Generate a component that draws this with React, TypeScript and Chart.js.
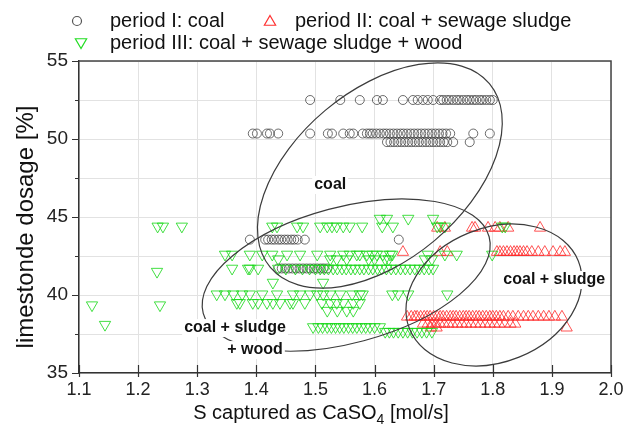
import React, { useEffect, useRef } from "react";
import { Chart, registerables } from "chart.js";

Chart.register(...registerables);

// ---------------- axes ----------------
const X_MIN = 1.1;
const X_MAX = 2.0;
const X_STEP = 0.1;
const Y_MIN = 35;
const Y_MAX = 55;
const Y_STEP = 2.5;

// ---------------- period I: coal (circles) ----------------
const coalXs_52_5 = [1.491, 1.542, 1.575, 1.604, 1.614, 1.648, 1.665, 1.673, 1.682, 1.69, 1.699, 1.711, 1.716, 1.722, 1.727, 1.733, 1.739, 1.744, 1.75, 1.756, 1.761, 1.767, 1.772, 1.778, 1.783, 1.789, 1.795, 1.8];
const coalXs_50_35 = [1.394, 1.401, 1.418, 1.423, 1.437, 1.491, 1.521, 1.528, 1.547, 1.558, 1.564, 1.58, 1.587, 1.592, 1.597, 1.603, 1.609, 1.615, 1.62, 1.626, 1.632, 1.638, 1.644, 1.649, 1.655, 1.661, 1.667, 1.673, 1.679, 1.685, 1.691, 1.697, 1.703, 1.709, 1.715, 1.721, 1.728, 1.767, 1.795];
const coalXs_49_8 = [1.621, 1.627, 1.633, 1.639, 1.645, 1.651, 1.657, 1.663, 1.669, 1.675, 1.681, 1.687, 1.693, 1.699, 1.705, 1.711, 1.717, 1.723, 1.733, 1.761];
const coalXs_43_55 = [1.389, 1.415, 1.42, 1.426, 1.431, 1.437, 1.442, 1.448, 1.453, 1.459, 1.464, 1.47, 1.482, 1.641];
const coalXs_41_7 = [1.437, 1.443, 1.449, 1.455, 1.461, 1.467, 1.473, 1.479, 1.485, 1.491, 1.497, 1.503, 1.509, 1.514, 1.52];

// ---------------- period II: coal + sewage sludge (up triangles) ----------------
const sludgeXs_44_3 = [1.706, 1.719, 1.765, 1.77, 1.792, 1.804, 1.812, 1.826, 1.88];
const sludgeXs_42_75 = [1.648, 1.711, 1.723, 1.807, 1.812, 1.818, 1.824, 1.83, 1.836, 1.841, 1.846, 1.852, 1.858, 1.866, 1.877, 1.888, 1.902, 1.914, 1.922];
const sludgeXs_38_6 = [1.655, 1.662, 1.668, 1.672, 1.678, 1.684, 1.689, 1.694, 1.7, 1.706, 1.711, 1.716, 1.722, 1.728, 1.733, 1.738, 1.744, 1.75, 1.755, 1.76, 1.766, 1.772, 1.777, 1.783, 1.789, 1.795, 1.8, 1.806, 1.812, 1.818, 1.826, 1.834, 1.843, 1.852, 1.86, 1.868, 1.877, 1.886, 1.895, 1.905, 1.917];
const sludgeXs_38_15 = [1.682, 1.69, 1.697, 1.704, 1.711, 1.718, 1.725, 1.732, 1.74, 1.748, 1.755, 1.763, 1.771, 1.779, 1.787, 1.795, 1.803, 1.811, 1.82, 1.83, 1.838];
const sludgeXs_37_9 = [1.695, 1.705, 1.925];

// ---------------- period III: coal + sewage sludge + wood (down triangles) ----------------
const woodOutliers: [number, number][] = [[1.122, 39.35], [1.144, 38.1], [1.233, 44.4], [1.242, 44.4], [1.274, 44.4], [1.232, 41.5], [1.237, 39.35]];
const woodXs_44_9 = [1.609, 1.621, 1.657, 1.699];
const woodXs_44_4 = [1.427, 1.435, 1.469, 1.479, 1.508, 1.52, 1.528, 1.536, 1.547, 1.558, 1.579, 1.613, 1.631, 1.706, 1.711, 1.719, 1.816, 1.821];
const woodXs_42_6 = [1.347, 1.359, 1.389, 1.41, 1.427, 1.452, 1.474, 1.503, 1.525, 1.547, 1.558, 1.57, 1.575, 1.587, 1.596, 1.604, 1.614, 1.626, 1.63, 1.69, 1.719, 1.739, 1.799];
const woodXs_42_3 = [1.437, 1.525, 1.536, 1.553, 1.59, 1.6, 1.618, 1.624, 1.685, 1.697];
const woodXs_41_7 = [1.359, 1.386, 1.389, 1.403, 1.437, 1.45, 1.466, 1.478, 1.49, 1.5, 1.508, 1.515, 1.522, 1.53, 1.537, 1.545, 1.552, 1.56, 1.567, 1.575, 1.582, 1.59, 1.597, 1.605, 1.612, 1.62, 1.628, 1.636, 1.644, 1.652, 1.66, 1.668, 1.676, 1.684, 1.692, 1.699];
const woodXs_40_8 = [1.428, 1.513];
const woodXs_40_05 = [1.333, 1.347, 1.361, 1.376, 1.389, 1.41, 1.435, 1.462, 1.474, 1.491, 1.503, 1.513, 1.525, 1.542, 1.562, 1.575, 1.58, 1.63, 1.64, 1.657, 1.723];
const woodXs_39_5 = [1.367, 1.372, 1.394, 1.403, 1.418, 1.428, 1.44, 1.457, 1.462, 1.482, 1.511, 1.525, 1.536, 1.547, 1.564, 1.575];
const woodXs_39_0 = [1.52, 1.537, 1.553, 1.564];
const woodXs_37_95 = [1.496, 1.505, 1.512, 1.52, 1.527, 1.534, 1.541, 1.548, 1.556, 1.563, 1.57, 1.578, 1.585, 1.592, 1.6, 1.609];
const woodXs_37_65 = [1.618, 1.625, 1.632, 1.64, 1.648, 1.656, 1.664, 1.672, 1.68, 1.688, 1.697];

// ---------------- texts ----------------
const legendLabels = ["period I: coal", "period II: coal + sewage sludge", "period III: coal + sewage sludge + wood"];
const yTitle = "limestonde dosage [%]";
const xTitleMain = "S captured as CaSO";
const xTitleSub = "4";
const xTitleTail = " [mol/s]";

// group annotations: ellipse centre and label anchor in data units
const groupCoal = { label: ["coal"], x: 1.609, y: 47.66, tx: 1.525, ty: 47.05 };
const groupSludge = { label: ["coal + sludge"], x: 1.802, y: 40.0, tx: 1.904, ty: 40.96 };
const groupWood = { label: ["coal + sludge", "+ wood"], x: 1.552, y: 41.28, tx: 1.364, ty: 37.88 };

const FONT = '"Liberation Sans", Arial, Helvetica, sans-serif';

const row = (xs: number[], y: number) => xs.map((x) => ({ x, y }));

const overlayPlugin = {
  id: "overlay",
  afterDatasetsDraw(chart: any) {
    const { ctx, scales } = chart;
    const xs = scales.x;
    const ys = scales.y;
    ctx.save();
    // ellipses
    const ellipses = [
      { g: groupCoal, rx: 143, ry: 85, rot: -40 },
      { g: groupWood, rx: 148, ry: 68, rot: -15 },
      { g: groupSludge, rx: 91, ry: 67, rot: -22 },
    ];
    ctx.strokeStyle = "#3c3c3c";
    ctx.lineWidth = 1.2;
    for (const e of ellipses) {
      ctx.beginPath();
      ctx.ellipse(xs.getPixelForValue(e.g.x), ys.getPixelForValue(e.g.y), e.rx, e.ry, (e.rot * Math.PI) / 180, 0, Math.PI * 2);
      ctx.stroke();
    }
    // labels
    ctx.font = `bold 16px ${FONT}`;
    ctx.textBaseline = "middle";
    ctx.textAlign = "center";
    const drawLabel = (text: string, px: number, py: number) => {
      const w = ctx.measureText(text).width;
      ctx.fillStyle = "#ffffff";
      ctx.fillRect(px - w / 2 - 2, py - 9, w + 4, 18);
      ctx.fillStyle = "#111111";
      ctx.fillText(text, px, py);
    };
    drawLabel(groupCoal.label[0], xs.getPixelForValue(groupCoal.tx), ys.getPixelForValue(groupCoal.ty));
    drawLabel(groupSludge.label[0], xs.getPixelForValue(groupSludge.tx), ys.getPixelForValue(groupSludge.ty));
    const wx = xs.getPixelForValue(groupWood.tx);
    const wy = ys.getPixelForValue(groupWood.ty);
    drawLabel(groupWood.label[0], wx, wy);
    drawLabel(groupWood.label[1], wx + 20, wy + 22);
    ctx.restore();
  },
  afterDraw(chart: any) {
    const { ctx, chartArea: ca, scales } = chart;
    const xs = scales.x;
    const ys = scales.y;
    ctx.save();
    // frame top / right
    ctx.strokeStyle = "#444444";
    ctx.lineWidth = 1.5;
    ctx.beginPath();
    ctx.moveTo(ca.left, ca.top);
    ctx.lineTo(ca.right, ca.top);
    ctx.lineTo(ca.right, ca.bottom);
    ctx.stroke();
    // tick marks
    ctx.strokeStyle = "#333333";
    ctx.lineWidth = 1.2;
    ctx.beginPath();
    for (const t of xs.ticks) {
      const p = Math.round(xs.getPixelForValue(t.value)) + 0.5;
      ctx.moveTo(p, ca.bottom - 8);
      ctx.lineTo(p, ca.bottom + 4);
    }
    for (const t of ys.ticks) {
      const p = Math.round(ys.getPixelForValue(t.value)) + 0.5;
      const len = Math.abs(t.value % 5) < 1e-6 ? 7 : 4;
      ctx.moveTo(ca.left - len, p);
      ctx.lineTo(ca.left, p);
    }
    ctx.stroke();

    // axis titles
    ctx.fillStyle = "#111111";
    ctx.textBaseline = "middle";
    ctx.textAlign = "center";
    ctx.save();
    ctx.translate(ca.left - 53, (ca.top + ca.bottom) / 2 + 10);
    ctx.rotate(-Math.PI / 2);
    ctx.font = `24px ${FONT}`;
    ctx.fillText(yTitle, 0, 0);
    ctx.restore();

    ctx.textBaseline = "alphabetic";
    ctx.textAlign = "left";
    ctx.font = `20px ${FONT}`;
    const w1 = ctx.measureText(xTitleMain).width;
    const w3 = ctx.measureText(xTitleTail).width;
    ctx.font = `14px ${FONT}`;
    const w2 = ctx.measureText(xTitleSub).width;
    const total = w1 + w2 + w3;
    let sx = (ca.left + ca.right) / 2 - 24 - total / 2;
    const base = ca.bottom + 46;
    ctx.font = `20px ${FONT}`;
    ctx.fillText(xTitleMain, sx, base);
    sx += w1;
    ctx.font = `14px ${FONT}`;
    ctx.fillText(xTitleSub, sx, base + 5);
    sx += w2;
    ctx.font = `20px ${FONT}`;
    ctx.fillText(xTitleTail, sx, base);

    // legend
    const r1 = 21;
    const r2 = 43;
    ctx.lineWidth = 1.2;
    ctx.strokeStyle = "#555555";
    ctx.beginPath();
    ctx.arc(77, r1, 4.5, 0, Math.PI * 2);
    ctx.stroke();
    const tri = (cx: number, cy: number, r: number, down: boolean, color: string) => {
      ctx.strokeStyle = color;
      ctx.beginPath();
      for (let i = 0; i < 3; i++) {
        const a = (down ? Math.PI : 0) + (i * 2 * Math.PI) / 3;
        const px = cx + Math.sin(a) * r;
        const py = cy - Math.cos(a) * r;
        if (i === 0) ctx.moveTo(px, py);
        else ctx.lineTo(px, py);
      }
      ctx.closePath();
      ctx.stroke();
    };
    tri(270, r1 + 1, 6.5, false, "#ff3030");
    tri(81, r2 - 1, 6.5, true, "#22dd22");
    ctx.fillStyle = "#111111";
    ctx.font = `20px ${FONT}`;
    ctx.textBaseline = "middle";
    ctx.fillText(legendLabels[0], 110, r1);
    ctx.fillText(legendLabels[1], 295, r1);
    ctx.fillText(legendLabels[2], 110, r2);
    ctx.restore();
  },
};

export default function App() {
  const ref = useRef<HTMLCanvasElement | null>(null);
  useEffect(() => {
    if (!ref.current) return;
    const periodI = [
      ...row(coalXs_52_5, 52.5),
      ...row(coalXs_50_35, 50.35),
      ...row(coalXs_49_8, 49.8),
      ...row(coalXs_43_55, 43.55),
      ...row(coalXs_41_7, 41.7),
    ];
    const periodII = [
      ...row(sludgeXs_44_3, 44.3),
      ...row(sludgeXs_42_75, 42.75),
      ...row(sludgeXs_38_6, 38.6),
      ...row(sludgeXs_38_15, 38.15),
      ...row(sludgeXs_37_9, 37.9),
    ];
    const periodIII = [
      ...woodOutliers.map(([x, y]) => ({ x, y })),
      ...row(woodXs_44_9, 44.9),
      ...row(woodXs_44_4, 44.4),
      ...row(woodXs_42_6, 42.6),
      ...row(woodXs_42_3, 42.3),
      ...row(woodXs_41_7, 41.7),
      ...row(woodXs_40_8, 40.8),
      ...row(woodXs_40_05, 40.05),
      ...row(woodXs_39_5, 39.5),
      ...row(woodXs_39_0, 39.0),
      ...row(woodXs_37_95, 37.95),
      ...row(woodXs_37_65, 37.65),
    ];
    const chart = new Chart(ref.current, {
      type: "scatter",
      data: {
        datasets: [
          {
            label: legendLabels[0],
            data: periodI,
            pointStyle: "circle",
            pointRadius: 4.5,
            borderWidth: 1,
            borderColor: "rgba(60,60,60,0.75)",
            backgroundColor: "rgba(0,0,0,0)",
            order: 1,
          },
          {
            label: legendLabels[1],
            data: periodII,
            pointStyle: "triangle",
            pointRadius: 6.5,
            borderWidth: 1,
            borderColor: "rgba(255,40,40,0.8)",
            backgroundColor: "rgba(0,0,0,0)",
            order: 2,
          },
          {
            label: legendLabels[2],
            data: periodIII,
            pointStyle: "triangle",
            pointRotation: 180,
            pointRadius: 6.5,
            borderWidth: 1,
            borderColor: "rgba(20,215,20,0.8)",
            backgroundColor: "rgba(0,0,0,0)",
            order: 0,
          },
        ],
      },
      options: {
        responsive: false,
        animation: false,
        events: [],
        layout: { padding: { top: 61, right: 24, left: 0, bottom: 0 } },
        plugins: { legend: { display: false }, tooltip: { enabled: false } },
        scales: {
          x: {
            type: "linear",
            min: X_MIN,
            max: X_MAX,
            afterFit: (s: any) => {
              s.height = 55;
            },
            ticks: {
              stepSize: X_STEP,
              autoSkip: false,
              maxRotation: 0,
              padding: 6,
              color: "#222222",
              font: { family: FONT, size: 18 },
              callback: (v: any) => Number(v).toFixed(1),
            },
            grid: { color: "#e2e2e2", lineWidth: 1, drawTicks: false },
            border: { display: true, color: "#333333", width: 1.5 },
          },
          y: {
            type: "linear",
            min: Y_MIN,
            max: Y_MAX,
            afterFit: (s: any) => {
              s.width = 79;
            },
            ticks: {
              stepSize: Y_STEP,
              autoSkip: false,
              padding: 11,
              color: "#222222",
              font: { family: FONT, size: 19 },
              callback: (v: any) => (Math.abs(Number(v) % 5) < 1e-6 ? String(v) : ""),
            },
            grid: { color: "#e2e2e2", lineWidth: 1, drawTicks: false },
            border: { display: true, color: "#333333", width: 1.5 },
          },
        },
      },
      plugins: [overlayPlugin],
    });
    return () => chart.destroy();
  }, []);
  return (
    <div style={{ position: "absolute", left: 0, top: 0, width: 635, height: 428, background: "#fff" }}>
      <canvas ref={ref} width={635} height={428} style={{ display: "block" }} />
    </div>
  );
}
